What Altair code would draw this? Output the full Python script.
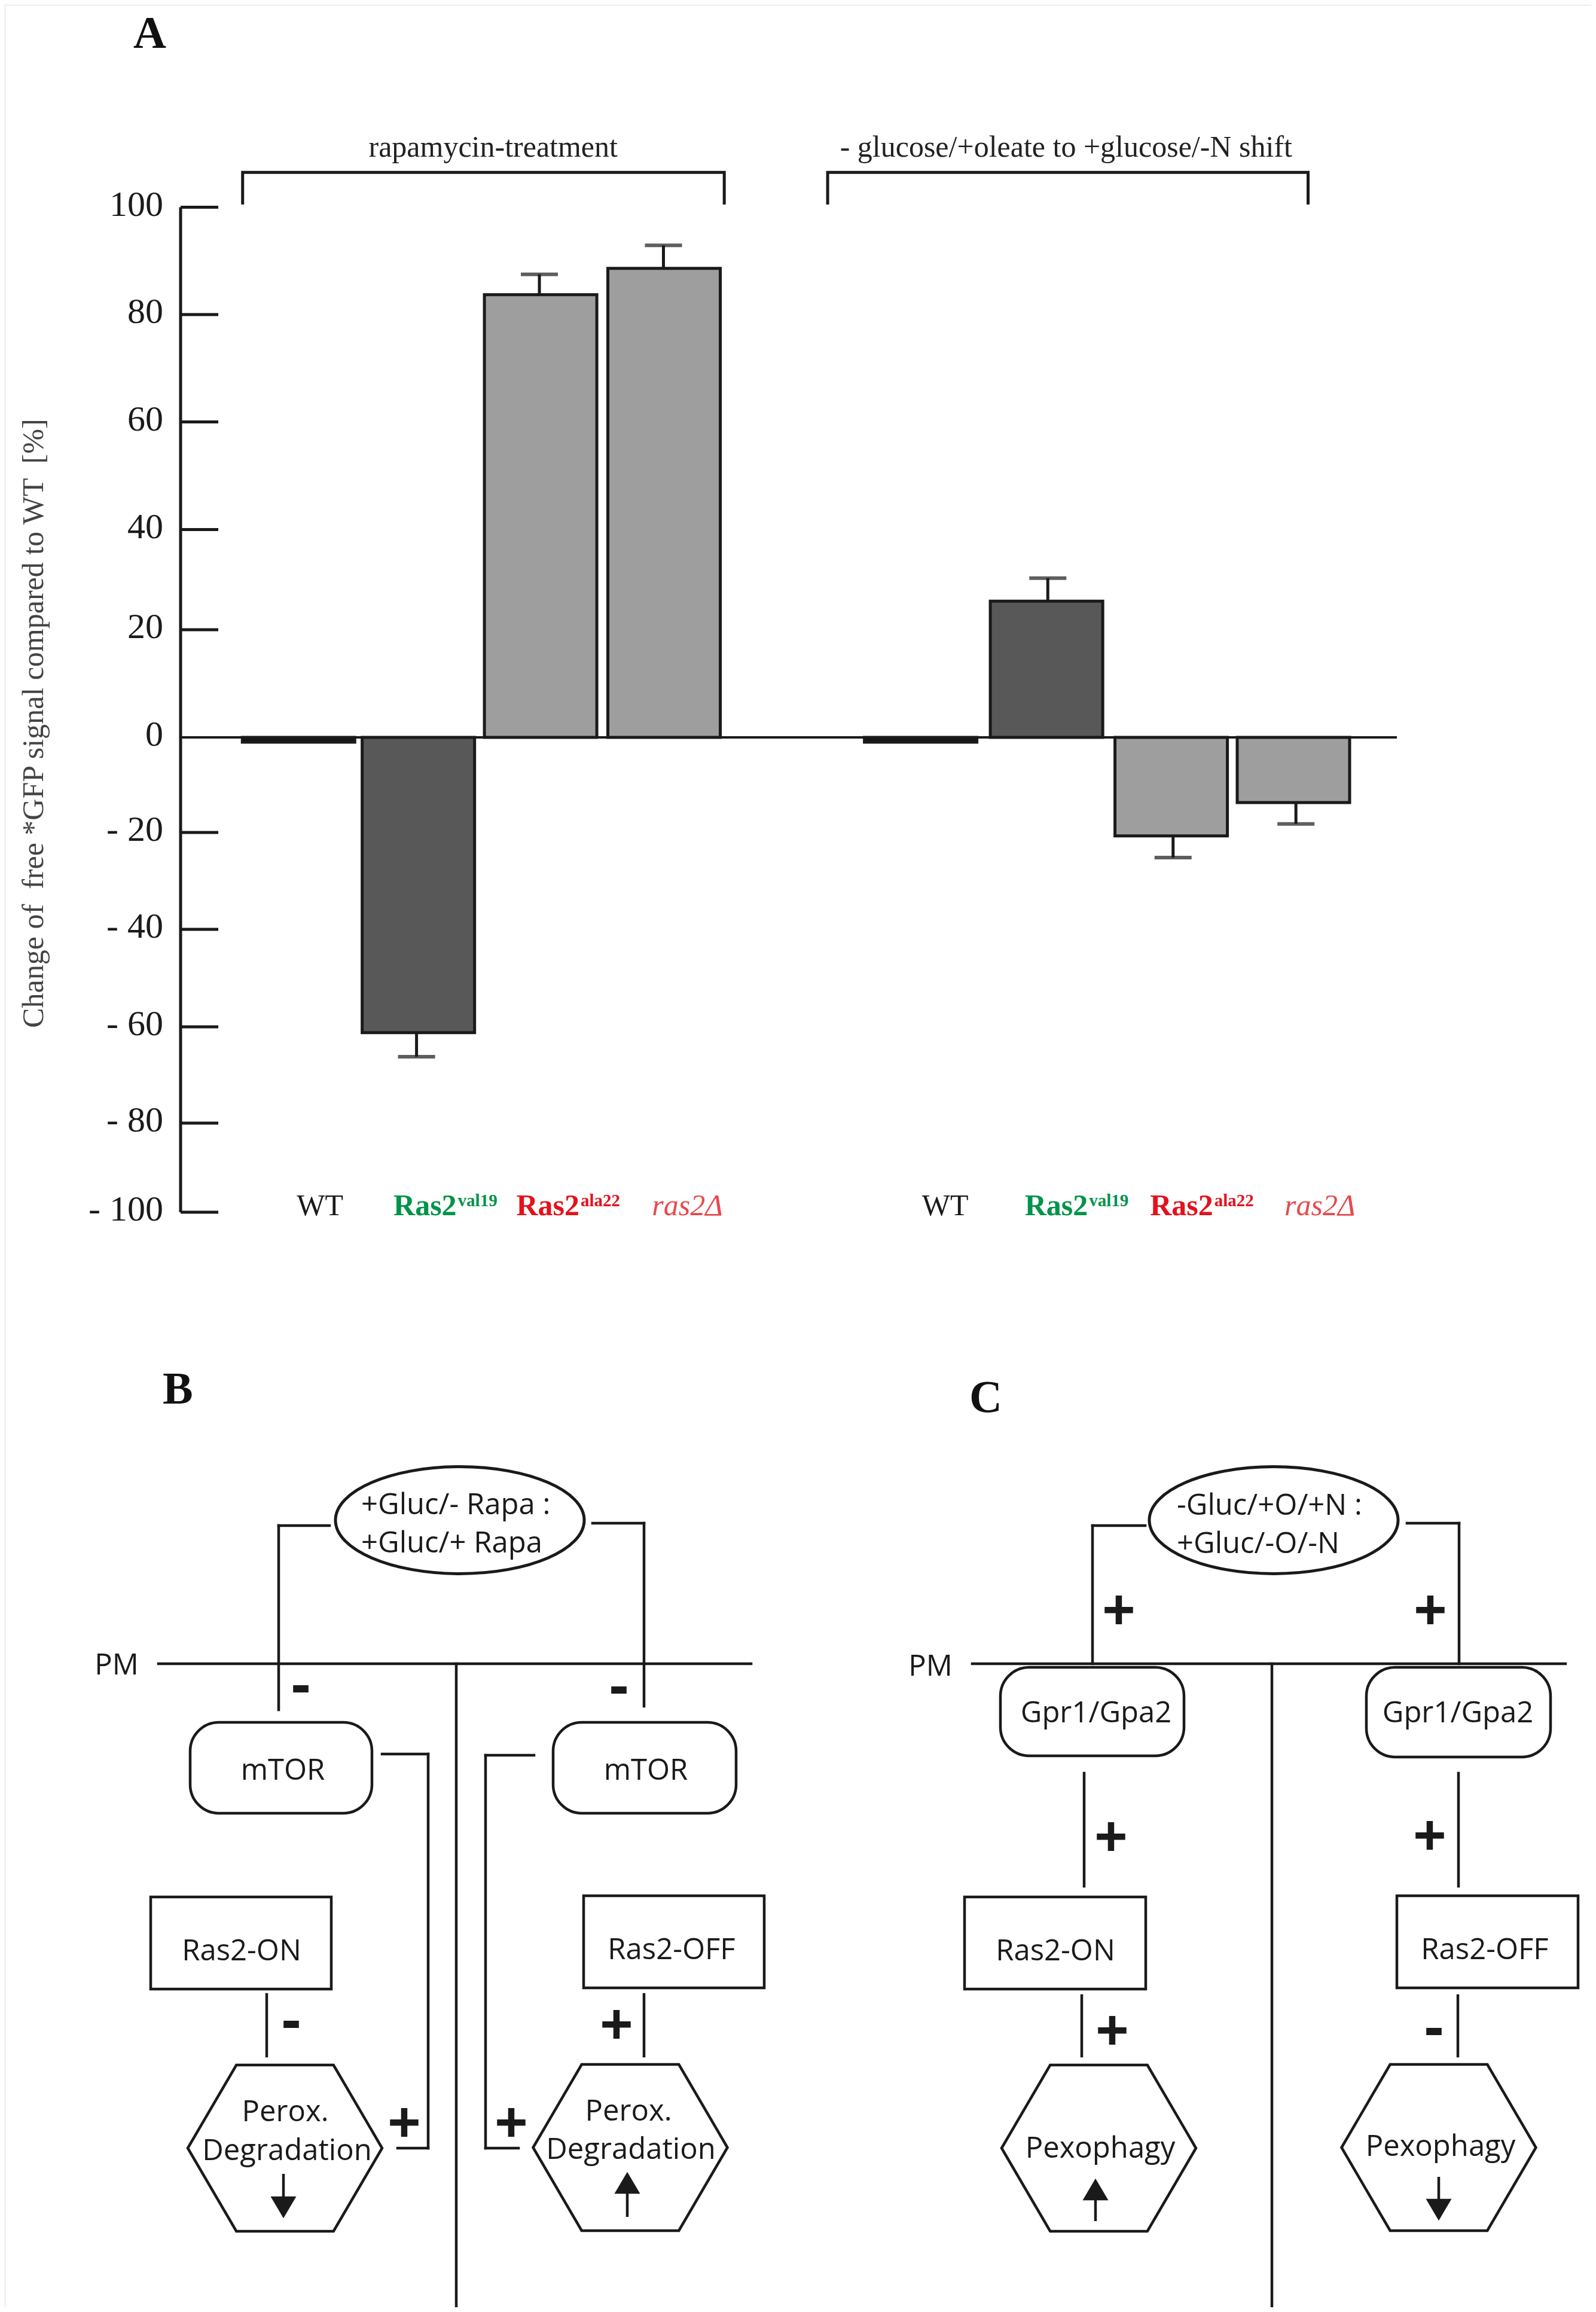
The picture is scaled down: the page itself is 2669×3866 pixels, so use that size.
import altair as alt
import pandas as pd

INK = "#1a1a1a"
SERIF = "Liberation Serif"
SANS = "Open Sans"

# ---------------- Panel A data ----------------
group_titles = ["rapamycin-treatment", "- glucose/+oleate to +glucose/-N shift"]
strain_keys = ["WT", "Ras2val19", "Ras2ala22", "ras2D"]
strain_base = ["WT", "Ras2", "Ras2", "ras2\u0394"]
strain_sup = ["", "val19", "ala22", ""]
rapa_values = [-1.0, -61.2, 83.7, 88.6]
rapa_errors = [0.0, 5.0, 3.8, 4.3]
shift_values = [-1.0, 25.7, -20.7, -13.7]
shift_errors = [0.0, 4.6, 4.5, 4.5]
y_tick_values = [100, 80, 60, 40, 20, 0, -20, -40, -60, -80, -100]
y_tick_labels = ["100", "80", "60", "40", "20", "0", "- 20", "- 40", "- 60", "- 80", "- 100"]
y_title = "Change of \u00a0free *GFP signal compared to WT \u00a0[%]"

bar_colors = ["#141414", "#585858", "#9e9e9e", "#9e9e9e"]
label_colors = ["#1a1a1a", "#00934a", "#e3121c", "#e64a4c"]

# ---------------- Panel A layout ----------------
slot_positions = [0.95, 1.94, 2.95, 3.97, 6.09, 7.13, 8.16, 9.17]
bracket_spans = [(0.51, 4.47), (5.32, 9.27)]
bracket_low, bracket_high = 100.5, 106.5
title_slots = [2.57, 7.28]
title_level = 109.4

# piecewise y scale following the (slightly uneven) printed ticks
ya_domain = [-100, -80, -60, -40, -20, 0, 20, 40, 60, 80, 100]
ya_range = [2019, 1870, 1709, 1546, 1384, 1225, 1045, 877.6, 697.6, 518, 338.6]

XA = alt.Scale(domain=[0, 10], range=[294, 2328], nice=False, zero=False)
YA = alt.Scale(domain=ya_domain, range=ya_range, nice=False, zero=False)
# figure-unit scales for the schematic panels B and C
XF = alt.Scale(domain=[0, 2669], range=[-8, 2661], nice=False, zero=False)
YF = alt.Scale(domain=[0, 3866], range=[-8, 3858], nice=False, zero=False)


def xa(f):
    return alt.X(f, type="quantitative", scale=XA, axis=None)


def ya(f):
    return alt.Y(f, type="quantitative", scale=YA, axis=None)


def xf(f):
    return alt.X(f, type="quantitative", scale=XF, axis=None)


def yf(f):
    return alt.Y(f, type="quantitative", scale=YF, axis=None)


rows = []
for gi, (vals, errs) in enumerate([(rapa_values, rapa_errors), (shift_values, shift_errors)]):
    for si in range(4):
        v, e = vals[si], errs[si]
        rows.append(dict(group=group_titles[gi], strain=strain_keys[si], base=strain_base[si],
                         sup=strain_sup[si], value=v, err=e,
                         end=v + (e if v >= 0 else -e), slot=slot_positions[gi * 4 + si],
                         zero=0.0, lab=-100.0))
bars = pd.DataFrame(rows)

layers = []

# zero line
layers.append(alt.Chart(pd.DataFrame({"x": [0.0], "x2": [10.0], "y": [0.0]})).mark_rule(
    color=INK, strokeWidth=4).encode(x=xa("x"), x2="x2:Q", y=ya("y")))

# bars
layers.append(alt.Chart(bars).mark_bar(size=188, stroke=INK, strokeWidth=5).encode(
    x=xa("slot"), y=ya("value"), y2="zero:Q",
    color=alt.Color("strain:N", scale=alt.Scale(domain=strain_keys, range=bar_colors), legend=None)))

# error bars
errdf = bars[bars["err"] > 0]
layers.append(alt.Chart(errdf).mark_rule(color=INK, strokeWidth=5).encode(
    x=xa("slot"), y=ya("value"), y2="end:Q"))
layers.append(alt.Chart(errdf).mark_tick(orient="horizontal", size=62, thickness=6, color=INK).encode(
    x=xa("slot"), y=ya("end")))

# y axis line, ticks (pointing inward), labels, title
layers.append(alt.Chart(pd.DataFrame({"x": [0.0], "y": [-100.0], "y2": [100.0]})).mark_rule(
    color=INK, strokeWidth=5).encode(x=xa("x"), y=ya("y"), y2="y2:Q"))
tickdf = pd.DataFrame({"v": [t for t in y_tick_values if t != 0]})
tickdf["x"] = 0.0
tickdf["x2"] = 0.31
layers.append(alt.Chart(tickdf).mark_rule(color=INK, strokeWidth=5).encode(
    x=xa("x"), x2="x2:Q", y=ya("v")))
labdf = pd.DataFrame({"v": y_tick_values, "t": y_tick_labels, "x": 0.0})
layers.append(alt.Chart(labdf).mark_text(font=SERIF, fontSize=60, align="right", baseline="middle",
                                         dx=-29, dy=-4, color=INK).encode(
    x=xa("x"), y=ya("v"), text="t:N"))
layers.append(alt.Chart(pd.DataFrame({"x": [-1.205], "y": [2.6], "t": [y_title]})).mark_text(
    font=SERIF, fontSize=50, angle=270, align="center", baseline="middle", color="#444444").encode(
    x=xa("x"), y=ya("y"), text="t:N"))

# group brackets and titles
brows = []
for gi, (l, r) in enumerate(bracket_spans):
    for o, (px, py) in enumerate([(l, bracket_low), (l, bracket_high), (r, bracket_high), (r, bracket_low)]):
        brows.append(dict(g=gi, o=o, x=px, y=py))
layers.append(alt.Chart(pd.DataFrame(brows)).mark_line(color=INK, strokeWidth=5, strokeJoin="miter").encode(
    x=xa("x"), y=ya("y"), detail="g:N", order="o:Q"))
layers.append(alt.Chart(pd.DataFrame({"x": title_slots, "y": [title_level] * 2, "t": group_titles})).mark_text(
    font=SERIF, fontSize=50, align="center", baseline="alphabetic", color="#222222").encode(
    x=xa("x"), y=ya("y"), text="t:N"))

# strain labels
lab_color = alt.Color("strain:N", scale=alt.Scale(domain=strain_keys, range=label_colors), legend=None)
layers.append(alt.Chart(bars[bars["strain"] == "WT"]).mark_text(
    font=SERIF, fontSize=50, align="center", baseline="alphabetic", dx=40, dy=5).encode(
    x=xa("slot"), y=ya("lab"), text="base:N", color=lab_color))
layers.append(alt.Chart(bars[bars["strain"] == "ras2D"]).mark_text(
    font=SERIF, fontSize=50, fontStyle="italic", align="center", baseline="alphabetic", dx=40, dy=5).encode(
    x=xa("slot"), y=ya("lab"), text="base:N", color=lab_color))
supdf = bars[bars["sup"] != ""]
layers.append(alt.Chart(supdf).mark_text(
    font=SERIF, fontSize=50, fontWeight="bold", align="right", baseline="alphabetic", dx=67, dy=5).encode(
    x=xa("slot"), y=ya("lab"), text="base:N", color=lab_color))
layers.append(alt.Chart(supdf).mark_text(
    font=SERIF, fontSize=29, fontWeight="bold", align="left", baseline="alphabetic", dx=69, dy=-10).encode(
    x=xa("slot"), y=ya("lab"), text="sup:N", color=lab_color))

# ---------------- Panels B and C (schematics, figure units) ----------------
panel_letters = pd.DataFrame({"t": ["A", "B", "C"], "x": [223, 272, 1621], "y": [80, 2347, 2361]})

segments = pd.DataFrame([
    # panel B
    (265, 2782, 1256, 2782), (763, 2782, 763, 3866),
    (551, 2551, 466, 2551), (466, 2551, 466, 2859),
    (991, 2547, 1077, 2547), (1077, 2547, 1077, 2853),
    (639, 2933, 716, 2933), (716, 2933, 716, 3592), (716, 3592, 665, 3592),
    (893, 2935, 812, 2935), (812, 2935, 812, 3592), (812, 3592, 867, 3592),
    (446, 3335, 446, 3438), (1077, 3335, 1077, 3438),
    # panel C
    (1626, 2782, 2618, 2782), (2127, 2782, 2127, 3866),
    (1915, 2551, 1827, 2551), (1827, 2551, 1827, 2782),
    (2353, 2547, 2440, 2547), (2440, 2547, 2440, 2782),
    (1813, 2965, 1813, 3154), (2439, 2965, 2439, 3154),
    (1809, 3337, 1809, 3438), (2438, 3337, 2438, 3438),
], columns=["x", "y", "x2", "y2"])

shafts = pd.DataFrame([
    (474, 3635, 474, 3678), (1049, 3662, 1049, 3707),
    (1832, 3672, 1832, 3714), (2406, 3640, 2406, 3683),
], columns=["x", "y", "x2", "y2"])

round_boxes = pd.DataFrame([
    (318, 2880, 622, 3032), (925, 2880, 1231, 3032),
    (1673, 2788, 1980, 2936), (2285, 2788, 2593, 2938),
], columns=["x", "y", "x2", "y2"])

plain_boxes = pd.DataFrame([
    (252, 3172, 554, 3326), (976, 3170, 1278, 3324),
    (1613, 3172, 1916, 3326), (2336, 3170, 2639, 3324),
], columns=["x", "y", "x2", "y2"])

ellipses = pd.DataFrame({"x": [769, 2130], "y": [2542, 2542]})
hexagons = pd.DataFrame({"x": [476.5, 1054, 1837.5, 2406], "y": [3592, 3591, 3592, 3591]})
heads_down = pd.DataFrame({"x": [474, 2406], "y": [3691, 3695]})
heads_up = pd.DataFrame({"x": [1049, 1832], "y": [3650, 3661]})

left_texts = pd.DataFrame([
    ("+Gluc/- Rapa :", 604, 2532), ("+Gluc/+ Rapa", 604, 2596),
    ("-Gluc/+O/+N :", 1968, 2533), ("+Gluc/-O/-N", 1968, 2597),
], columns=["t", "x", "y"])
center_texts = pd.DataFrame([
    ("PM", 195, 2800), ("mTOR", 473, 2976), ("mTOR", 1080, 2976),
    ("Ras2-ON", 404, 3278), ("Ras2-OFF", 1123, 3276),
    ("Perox.", 477, 3547), ("Degradation", 480, 3612),
    ("Perox.", 1051, 3546), ("Degradation", 1055, 3610),
    ("PM", 1556, 2802), ("Gpr1/Gpa2", 1833, 2880), ("Gpr1/Gpa2", 2438, 2880),
    ("Ras2-ON", 1765, 3278), ("Ras2-OFF", 2483, 3276),
    ("Pexophagy", 1840, 3608), ("Pexophagy", 2409, 3605),
], columns=["t", "x", "y"])
plus_signs = pd.DataFrame([
    (1031, 3385), (676, 3549), (855, 3549),
    (1871, 2692), (2392, 2692), (1858, 3071), (2391, 3069), (1860, 3395),
], columns=["x", "y"])
plus_signs["t"] = "+"
minus_signs = pd.DataFrame([
    (503, 2827), (1035, 2829), (487, 3388), (2398, 3400),
], columns=["x", "y"])
minus_signs["t"] = "-"

k = 0.5523
r = 0.43
ellipse_path = (f"M -1 0 C -1 {-k*r:.4f} {-k} {-r} 0 {-r} C {k} {-r} 1 {-k*r:.4f} 1 0 "
                f"C 1 {k*r:.4f} {k} {r} 0 {r} C {-k} {r} -1 {k*r:.4f} -1 0 Z")
hex_path = "M -1 0 L -0.5 -0.855 L 0.5 -0.855 L 1 0 L 0.5 0.855 L -0.5 0.855 Z"
down_path = "M -1 -0.85 L 1 -0.85 L 0 0.85 Z"
up_path = "M -1 0.85 L 1 0.85 L 0 -0.85 Z"

layers.append(alt.Chart(segments).mark_rule(color=INK, strokeWidth=4.5, strokeCap="square").encode(
    x=xf("x"), y=yf("y"), x2="x2:Q", y2="y2:Q"))
layers.append(alt.Chart(round_boxes).mark_rect(fill="white", stroke=INK, strokeWidth=4.5, cornerRadius=48).encode(
    x=xf("x"), y=yf("y"), x2="x2:Q", y2="y2:Q"))
layers.append(alt.Chart(plain_boxes).mark_rect(fill="white", stroke=INK, strokeWidth=4.5).encode(
    x=xf("x"), y=yf("y"), x2="x2:Q", y2="y2:Q"))
layers.append(alt.Chart(ellipses).mark_point(shape=ellipse_path, size=416 * 416, filled=True, fill="white",
                                             stroke=INK, strokeWidth=5, opacity=1).encode(
    x=xf("x"), y=yf("y")))
layers.append(alt.Chart(hexagons).mark_point(shape=hex_path, size=325 * 325, filled=True, fill="white",
                                             stroke=INK, strokeWidth=4.5, opacity=1).encode(
    x=xf("x"), y=yf("y")))
layers.append(alt.Chart(shafts).mark_rule(color=INK, strokeWidth=4.5).encode(
    x=xf("x"), y=yf("y"), x2="x2:Q", y2="y2:Q"))
layers.append(alt.Chart(heads_down).mark_point(shape=down_path, size=43 * 43, filled=True, fill=INK,
                                               strokeWidth=0, opacity=1).encode(x=xf("x"), y=yf("y")))
layers.append(alt.Chart(heads_up).mark_point(shape=up_path, size=43 * 43, filled=True, fill=INK,
                                             strokeWidth=0, opacity=1).encode(x=xf("x"), y=yf("y")))
layers.append(alt.Chart(left_texts).mark_text(font=SANS, fontSize=49, align="left", baseline="alphabetic",
                                              color=INK).encode(x=xf("x"), y=yf("y"), text="t:N"))
layers.append(alt.Chart(center_texts).mark_text(font=SANS, fontSize=49, align="center", baseline="alphabetic",
                                                color=INK).encode(x=xf("x"), y=yf("y"), text="t:N"))
layers.append(alt.Chart(plus_signs).mark_text(font=SANS, fontSize=98, fontWeight="bold", align="center",
                                              baseline="middle", dy=6, color=INK).encode(
    x=xf("x"), y=yf("y"), text="t:N"))
layers.append(alt.Chart(minus_signs).mark_text(font=SANS, fontSize=98, fontWeight="bold", align="center",
                                               baseline="middle", dy=-6, color=INK).encode(
    x=xf("x"), y=yf("y"), text="t:N"))
layers.append(alt.Chart(panel_letters).mark_text(font=SERIF, fontSize=76, fontWeight="bold", align="left",
                                                 baseline="alphabetic", color="#111111").encode(
    x=xf("x"), y=yf("y"), text="t:N"))

chart = alt.layer(*layers).resolve_scale(
    x="independent", y="independent", color="independent"
).properties(
    width=2653, height=3850, autosize=alt.AutoSizeParams(type="none"), padding=0
).configure_view(stroke=None).configure(background="white")

chart.save("out.html", embed_options={"renderer": "svg", "actions": False})
